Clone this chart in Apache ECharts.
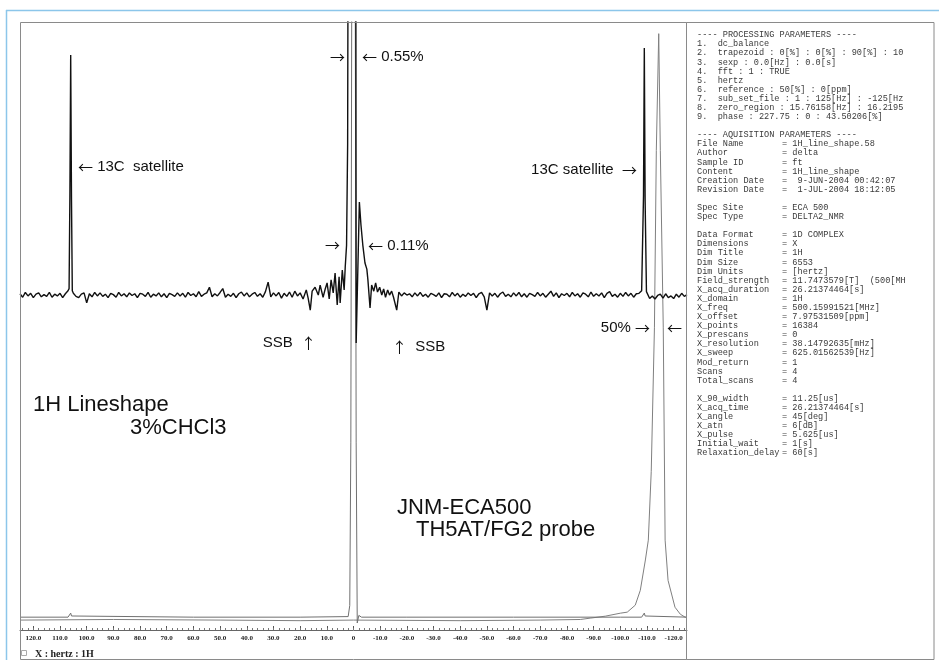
<!DOCTYPE html>
<html><head><meta charset="utf-8">
<script src="https://cdn.jsdelivr.net/npm/echarts@6/dist/echarts.min.js"></script>
<style>html,body{margin:0;padding:0;background:#fff}#c{width:939px;height:660px}</style>
</head><body><div id="c"></div>
<script>
// ---------- DATA ----------
// x axis: frequency in Hz (inverse axis, 125 .. -125)
const tickLabels = [120,110,100,90,80,70,60,50,40,30,20,10,0,-10,-20,-30,-40,-50,-60,-70,-80,-90,-100,-110,-120];

// Vertically expanded trace (black): intensity in units of 0.001 % of the main peak
// baseline noise, sampled each 1 Hz from 125 Hz down to 21 Hz
const noiseLeftStart = 125;
const noiseLeft = [
  3,-5,6,-2,4,-6,2,5,-4,1,
  -3,6,-5,2,-2,4,-6,3,10,0,
  4,-3,-6,2,5,-18,3,-4,6,-2,
  5,-3,2,-6,4,1,-5,6,-2,3,
  -4,5,-1,3,-6,4,2,-3,6,-5,
  2,-2,5,-4,3,-6,4,1,-3,5,
  -2,4,-5,6,-1,3,-4,8,-3,2,
  5,18,-4,3,-2,6,15,-5,2,-3,
  4,-6,3,7,-2,5,-4,2,6,-3,
  3,-5,8,30,-4,5,-2,6,-7,4,
  -3,7,-5,9,-2
];
// baseline noise, sampled each 1 Hz from -21 Hz down to -125 Hz
const noiseRightStart = -21;
const noiseRight = [
  3,-4,5,-2,6,-3,2,-5,4,1,
  -3,5,-6,3,2,-4,6,-2,4,-5,
  2,-3,5,-1,4,-6,3,6,-4,-35,
  5,-2,4,-5,3,7,-3,2,-4,5,
  -2,6,-4,3,-5,4,1,-3,6,-2,
  4,-5,2,9,-3,5,-6,3,-1,4,
  -4,6,-2,3,-5,5,2,-4,7,-3,
  3,-2,5,-6,4,8,-3,2,-5,4,
  -3,6,-2,4,-5,3,4,10,0,6,
  -8,-2,-9,-1,2,-7,3,-6,-2,-8,
  2,-5,4,-3,1
];
// central region around the main line (20 .. -20 Hz)
const centerHz  = [20.0,18.9,17.7,17.0,16.2,15.5,14.4,13.2,12.5,11.4,10.6,9.9,9.1,8.4,7.6,6.9,6.1,5.4,5.0,4.2,3.5,3.1,2.6,2.2,1.8,1.2,
                   -0.3,-1.0,-2.2,-2.8,-3.5,-4.3,-5.0,-5.4,-6.2,-6.8,-7.6,-8.3,-9.0,-9.8,-10.6,-11.3,-12.0,-12.8,-13.5,-14.3,-15.0,-16.2,-17.0,-18.0,-19.0,-20.0];
const centerVal = [5,-9,12,-7,-35,9,18,0,23,-5,14,28,-9,35,5,51,-23,42,-18,58,12,65,115,347,1500,5000,
                   5000,-111,215,162,115,74,60,35,-30,23,9,28,7,18,0,14,-5,12,0,9,-5,-35,7,-2,5,0];
// 13C satellites
const satLHz  = [106.6,106.3,106.0,105.7,105.4];
const satLVal = [15,230,555,220,10];
const satRHz  = [-108.4,-108.7,-109.0,-109.3,-109.8];
const satRVal = [12,230,571,220,8];

// Full-scale trace (grey): intensity in % of main peak
const fullHz  = [125,107,106.3,106,105.7,105,60,20,2.0,1.4,1.0,0.6,-0.6,-1.0,-1.4,-2.0,-3,-20,-60,-100,-108,-108.7,-109,-109.3,-110,-125];
const fullVal = [0,0,0.2,0.7,0.2,0,0,0,0.1,2,30,120,120,30,-1,0.3,0,0,0,0,0,0.2,0.7,0.2,0,0];

// Line-shape trace of the main line (grey, expanded in frequency): % of peak
const insetHz  = [125,90,50,20,0,-40,-70,-85,-88.7,-94.4,-100,-102.6,-105.6,-107.5,-109.4,-110.5,-111.6,-112.8,-113.5,-114.4,-115.0,-116.1,-116.8,-117.9,-120.5,-122.5,-124.3,-125];
const insetVal = [-0.5,-0.4,-0.5,-0.6,-0.5,-0.6,-0.5,-0.4,-0.17,0.17,0.68,0.86,2.05,4.6,9.8,13.2,25,49.7,80,100,80,49.7,13.2,6.3,1.7,0.5,0,0];

// Parameter panel text
const procLines = [
  '---- PROCESSING PARAMETERS ----',
  '1.  dc_balance',
  '2.  trapezoid : 0[%] : 0[%] : 90[%] : 10',
  '3.  sexp : 0.0[Hz] : 0.0[s]',
  '4.  fft : 1 : TRUE',
  '5.  hertz',
  '6.  reference : 50[%] : 0[ppm]',
  '7.  sub_set_file : 1 : 125[Hz] : -125[Hz',
  '8.  zero_region : 15.76158[Hz] : 16.2195',
  '9.  phase : 227.75 : 0 : 43.50206[%]',
  '',
  '---- AQUISITION PARAMETERS ----'
];
const acqLabels = ['File Name','Author','Sample ID','Content','Creation Date','Revision Date','',
  'Spec Site','Spec Type','',
  'Data Format','Dimensions','Dim Title','Dim Size','Dim Units','Field_strength','X_acq_duration','X_domain','X_freq','X_offset','X_points','X_prescans','X_resolution','X_sweep','Mod_return','Scans','Total_scans','',
  'X_90_width','X_acq_time','X_angle','X_atn','X_pulse','Initial_wait','Relaxation_delay'];
const acqValues = ['= 1H_line_shape.58','= delta','= ft','= 1H_line_shape','=  9-JUN-2004 00:42:07','=  1-JUL-2004 18:12:05','',
  '= ECA 500','= DELTA2_NMR','',
  '= 1D COMPLEX','= X','= 1H','= 6553','= [hertz]','= 11.7473579[T]  (500[MH','= 26.21374464[s]','= 1H','= 500.15991521[MHz]','= 7.97531509[ppm]','= 16384','= 0','= 38.14792635[mHz]','= 625.01562539[Hz]','= 1','= 4','= 4','',
  '= 11.25[us]','= 26.21374464[s]','= 45[deg]','= 6[dB]','= 5.625[us]','= 1[s]','= 60[s]'];

// ---------- BUILD ----------
const regions = [[satLHz,satLVal],[satRHz,satRVal],[centerHz,centerVal]];
function inRegion(h){
  return regions.some(r => h <= Math.max(...r[0]) && h >= Math.min(...r[0]));
}
let expPts = [];
noiseLeft.forEach((v,i)=>{ const h = noiseLeftStart - i; if(!inRegion(h)) expPts.push([h,v]); });
noiseRight.forEach((v,i)=>{ const h = noiseRightStart - i; if(!inRegion(h)) expPts.push([h,v]); });
regions.forEach(r => r[0].forEach((h,i)=> expPts.push([h, r[1][i]])));
expPts.sort((a,b)=> b[0]-a[0]);
const fullPts = fullHz.map((h,i)=>[h, fullVal[i]]);
const insetPts = insetHz.map((h,i)=>[h, insetVal[i]]);
const minorTicks = [];
for (let v = -124; v <= 124; v += 2) minorTicks.push(v);

const sans = '"Liberation Sans", Arial, sans-serif';
const cjk = '"Noto Sans CJK JP"';
function ann(x, y, text, align, size){
  return { type:'text', silent:true, z:10, style:{
    x:x, y:y, text:text, fill:'#111', font: (size||15)+'px '+sans,
    align: align||'left', verticalAlign:'middle',
    rich:{ a:{ fontFamily:cjk, fontSize:(size||15), fill:'#111' } }
  }};
}
const graphics = [
  {type:'line', silent:true, shape:{x1:6,y1:10.5,x2:939,y2:10.5}, style:{stroke:'#8cc6ea', lineWidth:1.5}},
  {type:'line', silent:true, shape:{x1:6.5,y1:10,x2:6.5,y2:660}, style:{stroke:'#8cc6ea', lineWidth:1.5}},
  {type:'rect', silent:true, z:5, shape:{x:20.5,y:22.5,width:666,height:637}, style:{fill:'none', stroke:'#8a8a8a', lineWidth:1}},
  {type:'rect', silent:true, z:5, shape:{x:686.5,y:22.5,width:247.5,height:637}, style:{fill:'none', stroke:'#8a8a8a', lineWidth:1}},
  {type:'rect', silent:true, shape:{x:21.5,y:650.5,width:5,height:5}, style:{fill:'none', stroke:'#aaa', lineWidth:1}},
  {type:'text', silent:true, style:{x:35, y:654, text:'X : hertz : 1H', font:'bold 10px "Liberation Serif", serif', fill:'#222', verticalAlign:'middle'}},
  ann(78, 167, '{a|←} 13C  satellite'),
  ann(345, 57, '{a|→}', 'right'),
  ann(362, 57, '{a|←} 0.55%'),
  ann(340, 245, '{a|→}', 'right'),
  ann(368, 246, '{a|←} 0.11%'),
  ann(637, 170, '13C satellite  {a|→}', 'right'),
  ann(316, 343, 'SSB  {a|↑}', 'right'),
  ann(392, 347, '{a|↑}  SSB'),
  ann(650, 328, '50% {a|→}', 'right'),
  ann(667, 328, '{a|←}'),
  ann(33, 405, '1H Lineshape', 'left', 22),
  ann(130, 428, '3%CHCl3', 'left', 22),
  ann(397, 508, 'JNM-ECA500', 'left', 22),
  ann(416, 530, 'TH5AT/FG2 probe', 'left', 22)
];
const mono = '8.6px "Liberation Mono", monospace';
const lh = 9.09;
procLines.forEach((t,i)=>{
  if (t) graphics.push({type:'text', silent:true, style:{x:697, y:35 + i*lh, text:t, font:mono, fill:'#3a3a3a', verticalAlign:'middle'}});
});
acqLabels.forEach((t,i)=>{
  const y = 35 + (procLines.length + i)*lh;
  if (t) {
    graphics.push({type:'text', silent:true, style:{x:697, y:y, text:t, font:mono, fill:'#3a3a3a', verticalAlign:'middle'}});
    graphics.push({type:'text', silent:true, style:{x:782, y:y, text:acqValues[i], font:mono, fill:'#3a3a3a', verticalAlign:'middle'}});
  }
});

const chart = echarts.init(document.getElementById('c'), null, {renderer:'canvas'});
chart.setOption({
  animation:false,
  backgroundColor:'#fff',
  grid:{left:20, right:252, top:22, bottom:30, containLabel:false},
  xAxis:[{
    type:'value', min:-125, max:125, inverse:true, position:'bottom',
    splitLine:{show:false},
    axisLine:{show:true, onZero:false, lineStyle:{color:'#666', width:1}},
    axisTick:{show:true, inside:true, length:4, customValues:tickLabels, lineStyle:{color:'#555'}},
    axisLabel:{show:true, customValues:tickLabels, margin:5, fontSize:7, fontWeight:'bold', fontFamily:'"Liberation Serif", serif', color:'#222',
      formatter:v => v === 0 ? '0' : v.toFixed(1)}
  },{
    type:'value', min:-125, max:125, inverse:true, position:'bottom', offset:0,
    splitLine:{show:false}, axisLine:{show:false, onZero:false},
    axisTick:{show:true, inside:true, length:2, customValues:minorTicks, lineStyle:{color:'#777'}},
    axisLabel:{show:false}
  }],
  yAxis:[
    {type:'value', min:-2.2, max:102, show:false, splitLine:{show:false}},
    {type:'value', min:-774, max:631, show:false, splitLine:{show:false}}
  ],
  series:[
    {type:'line', name:'lineshape', xAxisIndex:0, yAxisIndex:0, data:insetPts, showSymbol:false, silent:true, clip:true,
      lineStyle:{color:'#808080', width:1}},
    {type:'line', name:'full', xAxisIndex:0, yAxisIndex:0, data:fullPts, showSymbol:false, silent:true, clip:true,
      lineStyle:{color:'#707070', width:1}},
    {type:'line', name:'expanded', xAxisIndex:0, yAxisIndex:1, data:expPts, showSymbol:false, silent:true, clip:true,
      lineStyle:{color:'#111', width:1.4}}
  ],
  graphic:graphics
});
</script></body></html>
